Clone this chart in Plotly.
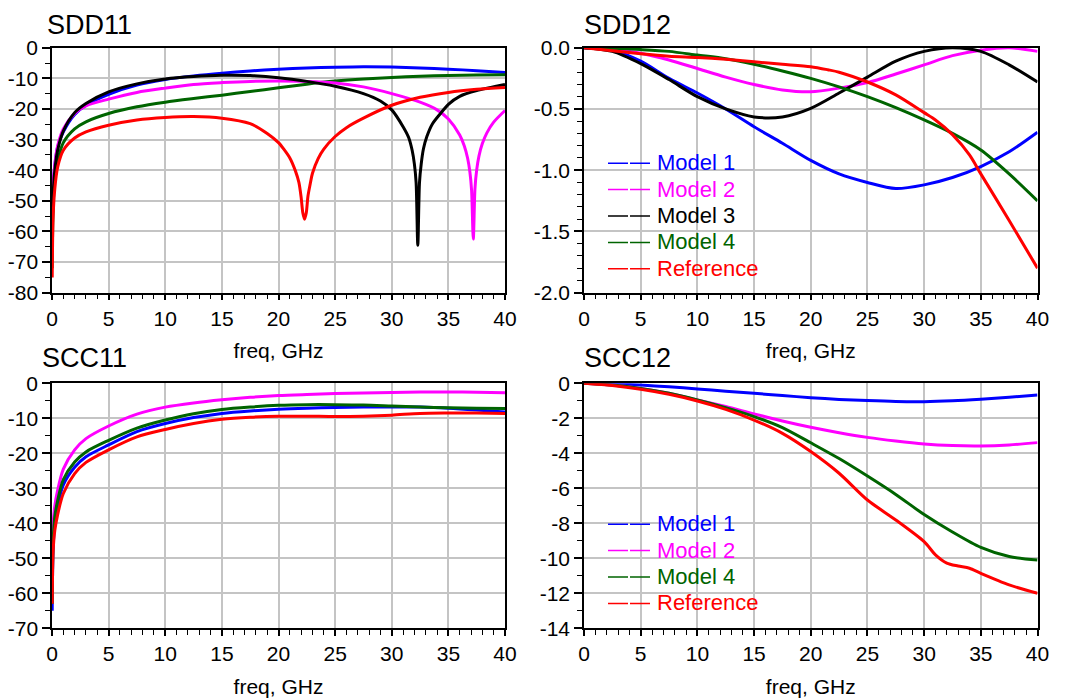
import plotly.graph_objects as go
from plotly.subplots import make_subplots

# ---- data ----------------------------------------------------------------
# shared frequency grid for the smooth return-loss curves (GHz)
FREQ_RL = [0.02, 0.1, 0.25, 0.5, 1, 2, 3, 5, 7.5, 10, 12.5, 15, 17.5, 20,
           22.5, 25, 27.5, 30, 32.5, 35, 37.5, 40]

# SDD11 (dB)
SDD11_M1 = [-62, -46, -38.5, -32.5, -27.5, -21.8, -18.8, -15.2, -12.2, -10.4,
            -9.2, -8.3, -7.6, -7.0, -6.6, -6.35, -6.2, -6.3, -6.6, -7.0, -7.5, -8.1]
SDD11_M4 = [-72, -52, -43, -37, -31, -26.5, -24.2, -21.5, -19.3, -17.8, -16.6,
            -15.5, -14.3, -13.1, -11.9, -10.9, -10.2, -9.7, -9.3, -9.1, -8.9, -8.8]
SDD11_M2_F = [0.02, 0.1, 0.25, 0.5, 1, 2, 3, 5, 7.5, 10, 12.5, 15, 17.5, 20,
              22.5, 25, 27.5, 30, 32.5, 34, 35, 36, 36.4, 36.7, 36.9, 37.05,
              37.2, 37.35, 37.5, 37.7, 38, 38.4, 39, 40]
SDD11_M2 = [-60, -45, -38, -32, -26.5, -21.5, -19.0, -16.8, -14.6, -13.2, -12.0,
            -11.4, -11.0, -10.9, -11.0, -11.5, -12.8, -15.0, -17.8, -20.3, -23.3,
            -28.5, -32.0, -36.1, -40.6, -46.6, -62.5, -45.9, -39.9, -35.4, -31.3,
            -27.8, -24.3, -20.5]
SDD11_M3_F = [0.02, 0.1, 0.25, 0.5, 1, 2, 3, 5, 7.5, 10, 12.5, 15, 17.5, 20,
              22.5, 25, 27.5, 29, 30, 31, 31.5, 31.8, 32.0, 32.15, 32.3, 32.45,
              32.6, 32.8, 33.1, 33.6, 34.5, 35, 36, 37.5, 40]
SDD11_M3 = [-66, -48, -40, -33.5, -27.2, -21.2, -18.2, -14.4, -11.8, -10.2, -9.4,
            -9.0, -9.1, -9.8, -11.0, -12.6, -15.0, -17.4, -20.3, -25.8, -29.4,
            -33.5, -38.0, -44.0, -64.5, -44.0, -38.0, -33.0, -29.0, -24.8, -20.6,
            -18.5, -15.9, -14.0, -12.0]
SDD11_REF_F = [0.02, 0.1, 0.25, 0.5, 1, 2, 3, 5, 7.5, 10, 12.5, 15, 17.5, 19,
               20, 20.5, 21, 21.5, 21.8, 22.0, 22.15, 22.3, 22.45, 22.6, 22.8,
               23, 23.5, 24, 25, 26, 27.5, 30, 32.5, 35, 37.5, 40]
SDD11_REF = [-75, -55, -46, -39, -33.5, -29.5, -27.5, -25.3, -23.6, -22.8, -22.5,
             -23.0, -24.8, -28.0, -31.0, -33.3, -36.0, -40.3, -44.0, -48.9, -54.0,
             -56.0, -54.0, -48.5, -44.5, -41.0, -36.2, -33.1, -29.0, -26.1, -23.0,
             -18.8, -16.2, -14.6, -13.6, -13.0]

# SCC11 (dB)
SCC11_M1 = [-65, -47, -40, -35, -29, -24, -21, -17.6, -13.8, -11.5, -9.8, -8.6,
            -7.9, -7.4, -7.1, -6.9, -6.8, -6.75, -6.8, -7.1, -7.6, -8.2]
SCC11_M2 = [-45, -40, -35, -30.5, -24.5, -19, -15.8, -12.2, -8.8, -6.8, -5.6,
            -4.7, -4.0, -3.5, -3.2, -2.95, -2.8, -2.6, -2.5, -2.5, -2.55, -2.7]
SCC11_M4 = [-63, -45, -38, -33.5, -27.5, -22.5, -19.6, -16.3, -12.8, -10.5, -8.7,
            -7.5, -6.8, -6.3, -6.1, -6.1, -6.2, -6.5, -6.8, -7.0, -7.1, -7.2]
SCC11_REF = [-63, -48, -42, -37.5, -31.5, -25.8, -22.6, -19.0, -15.3, -13.2,
             -11.5, -10.3, -9.7, -9.4, -9.4, -9.5, -9.4, -9.1, -8.6, -8.5, -8.5, -8.6]

# shared frequency grid for the insertion-loss curves (GHz)
FREQ_IL = [0, 2.5, 5, 7.5, 10, 12.5, 15, 17.5, 20, 22.5, 25, 27.5, 30, 32.5,
           35, 37.5, 40]

# SDD12 (dB)
SDD12_M1 = [0, -0.02, -0.11, -0.25, -0.37, -0.5, -0.645, -0.78, -0.92, -1.03,
            -1.10, -1.15, -1.12, -1.06, -0.97, -0.85, -0.69]
SDD12_M2 = [0, -0.015, -0.045, -0.10, -0.17, -0.24, -0.30, -0.345, -0.36, -0.33,
            -0.285, -0.215, -0.14, -0.065, -0.02, 0.0, -0.03]
SDD12_M3 = [0, -0.03, -0.13, -0.26, -0.40, -0.5, -0.565, -0.565, -0.495, -0.37,
            -0.24, -0.11, -0.03, 0.0, -0.03, -0.14, -0.28]
SDD12_M4 = [0, -0.005, -0.015, -0.03, -0.06, -0.09, -0.135, -0.19, -0.25, -0.32,
            -0.40, -0.49, -0.59, -0.70, -0.835, -1.03, -1.25]
SDD12_REF_F = [0, 2.5, 5, 7.5, 10, 12.5, 15, 17.5, 20, 21.5, 22.5, 25, 27.5, 30,
               31, 32.5, 34, 35, 37.5, 40]
SDD12_REF = [0, -0.025, -0.05, -0.07, -0.08, -0.095, -0.115, -0.135, -0.155,
             -0.18, -0.2, -0.28, -0.385, -0.53, -0.59, -0.71, -0.875, -1.03,
             -1.41, -1.80]

# SCC12 (dB)
SCC12_M1 = [0, -0.03, -0.1, -0.2, -0.32, -0.45, -0.57, -0.7, -0.82, -0.92,
            -0.99, -1.04, -1.05, -1.0, -0.91, -0.8, -0.67]
SCC12_M2 = [0, -0.1, -0.29, -0.57, -0.95, -1.33, -1.75, -2.15, -2.51, -2.82,
            -3.09, -3.30, -3.47, -3.56, -3.58, -3.52, -3.39]
SCC12_M4 = [0, -0.1, -0.29, -0.57, -0.95, -1.39, -1.9, -2.53, -3.4, -4.3,
            -5.3, -6.35, -7.5, -8.5, -9.38, -9.9, -10.1]
SCC12_REF_F = [0, 2.5, 5, 7.5, 10, 12.5, 15, 17.5, 20, 22.5, 25, 27.5, 30, 31,
               32, 33, 34, 35, 37.5, 40]
SCC12_REF = [0, -0.13, -0.34, -0.63, -1.01, -1.49, -2.1, -2.86, -3.9, -5.14,
             -6.67, -7.81, -9.05, -9.8, -10.27, -10.44, -10.57, -10.86, -11.52,
             -12.0]

# axis ticks
FREQ_TICKS = [0, 5, 10, 15, 20, 25, 30, 35, 40]
SDD11_YTICKS = [0, -10, -20, -30, -40, -50, -60, -70, -80]
SDD12_YTICKS = [0.0, -0.5, -1.0, -1.5, -2.0]
SCC11_YTICKS = [0, -10, -20, -30, -40, -50, -60, -70]
SCC12_YTICKS = [0, -2, -4, -6, -8, -10, -12, -14]

BLUE, MAGENTA, BLACK, GREEN, RED = "#0000ff", "#ff00ff", "#000000", "#006400", "#ff0000"
FONT = "Liberation Sans, Arial, sans-serif"

# the page body adds an 8px margin, so the figure is drawn 8px smaller and
# every page-pixel position below is shifted by that offset
PAGE_OFF = 8
W, H = 1071 - PAGE_OFF, 700 - PAGE_OFF


def px(x):
    return (x - PAGE_OFF) / W


def py(y):
    return 1 - (y - PAGE_OFF) / H


fig = make_subplots(rows=2, cols=2)


def add_curve(f, v, color, row, col):
    fig.add_trace(
        go.Scatter(x=f, y=v, mode="lines", showlegend=False,
                   line=dict(color=color, width=3, shape="spline", smoothing=0.8),
                   hoverinfo="x+y"),
        row=row, col=col,
    )


add_curve(FREQ_RL, SDD11_M1, BLUE, 1, 1)
add_curve(FREQ_RL, SDD11_M4, GREEN, 1, 1)
add_curve(SDD11_M2_F, SDD11_M2, MAGENTA, 1, 1)
add_curve(SDD11_M3_F, SDD11_M3, BLACK, 1, 1)
add_curve(SDD11_REF_F, SDD11_REF, RED, 1, 1)

add_curve(FREQ_IL, SDD12_M1, BLUE, 1, 2)
add_curve(FREQ_IL, SDD12_M2, MAGENTA, 1, 2)
add_curve(FREQ_IL, SDD12_M3, BLACK, 1, 2)
add_curve(FREQ_IL, SDD12_M4, GREEN, 1, 2)
add_curve(SDD12_REF_F, SDD12_REF, RED, 1, 2)

add_curve(FREQ_RL, SCC11_M1, BLUE, 2, 1)
add_curve(FREQ_RL, SCC11_M2, MAGENTA, 2, 1)
add_curve(FREQ_RL, SCC11_M4, GREEN, 2, 1)
add_curve(FREQ_RL, SCC11_REF, RED, 2, 1)

add_curve(FREQ_IL, SCC12_M1, BLUE, 2, 2)
add_curve(FREQ_IL, SCC12_M2, MAGENTA, 2, 2)
add_curve(FREQ_IL, SCC12_M4, GREEN, 2, 2)
add_curve(SCC12_REF_F, SCC12_REF, RED, 2, 2)

# legend-only entries: thin dashed keys with coloured labels
LEG_TOP = [("Model 1", BLUE), ("Model 2", MAGENTA), ("Model 3", BLACK),
           ("Model 4", GREEN), ("Reference", RED)]
LEG_BOT = [("Model 1", BLUE), ("Model 2", MAGENTA), ("Model 4", GREEN),
           ("Reference", RED)]
for legend, row, items in (("legend", 1, LEG_TOP), ("legend2", 2, LEG_BOT)):
    for name, color in items:
        fig.add_trace(
            go.Scatter(x=[None], y=[None], mode="lines", legend=legend,
                       name=f'<span style="color:{color};font-size:22px">{name}</span>',
                       line=dict(color=color, width=1.5, dash="20px,2px")),
            row=row, col=2,
        )

# panel geometry (page pixels of the reference)
X_LEFT = (px(52), px(505))
X_RIGHT = (px(584), px(1037.5))
Y_TOP = (py(292.7), py(47.7))
Y_BOT = (py(628.3), py(383.3))

PANELS = [
    (1, 1, X_LEFT, Y_TOP, SDD11_YTICKS, "{:g}", 5),
    (1, 2, X_RIGHT, Y_TOP, SDD12_YTICKS, "{:.1f}", 0.1),
    (2, 1, X_LEFT, Y_BOT, SCC11_YTICKS, "{:g}", 5),
    (2, 2, X_RIGHT, Y_BOT, SCC12_YTICKS, "{:g}", 1),
]
axis_common = dict(
    automargin=False,
    showline=True, linecolor="black", linewidth=1.5, mirror=True,
    showgrid=True, gridcolor="#c4c4c4", gridwidth=1.5, zeroline=False,
    ticks="outside", tickwidth=1.5, tickcolor="black",
    tickfont=dict(family=FONT, size=21, color="black"),
)
for row, col, xd, yd, yticks, fmt, ymin in PANELS:
    fig.update_xaxes(
        row=row, col=col, domain=list(xd), range=[0, 40],
        tickmode="array", tickvals=FREQ_TICKS,
        ticktext=[f"{v:g}" for v in FREQ_TICKS], ticklen=6,
        minor=dict(tick0=0, dtick=1, ticks="outside", ticklen=5, tickwidth=1,
                   tickcolor="black", showgrid=False),
        title=dict(text="freq, GHz", font=dict(family=FONT, size=21, color="black"),
                   standoff=15),
        **axis_common,
    )
    fig.update_yaxes(
        row=row, col=col, domain=list(yd), range=[min(yticks), max(yticks)],
        tickmode="array", tickvals=yticks,
        ticktext=[fmt.format(v) for v in yticks], ticklen=8,
        minor=dict(tick0=0, dtick=ymin, ticks="outside", ticklen=5, tickwidth=1,
                   tickcolor="black", showgrid=False),
        **axis_common,
    )

# panel titles: the top pair hangs from the top edge so it stays inside the page
TITLES = [("SDD11", 45, 1.0, "top"), ("SDD12", 582, 1.0, "top"),
          ("SCC11", 40, py(358), "middle"), ("SCC12", 582, py(358), "middle")]
for text, tx, ty, anchor in TITLES:
    fig.add_annotation(text=text, x=px(tx), y=ty, xref="paper", yref="paper",
                       xanchor="left", yanchor=anchor, showarrow=False,
                       font=dict(family=FONT, size=27, color="black"))

legend_common = dict(
    xanchor="left", yanchor="top", bgcolor="rgba(0,0,0,0)", borderwidth=0,
    itemwidth=44, tracegroupgap=0, font=dict(family=FONT, size=18, color="black"),
)
fig.update_layout(
    width=W, height=H, autosize=False,
    margin=dict(l=0, r=0, t=0, b=0),
    paper_bgcolor="white", plot_bgcolor="white",
    font=dict(family=FONT, color="black"),
    legend=dict(x=px(603), y=py(145), **legend_common),
    legend2=dict(x=px(603), y=py(506), **legend_common),
)

fig.write_html("out.html")
